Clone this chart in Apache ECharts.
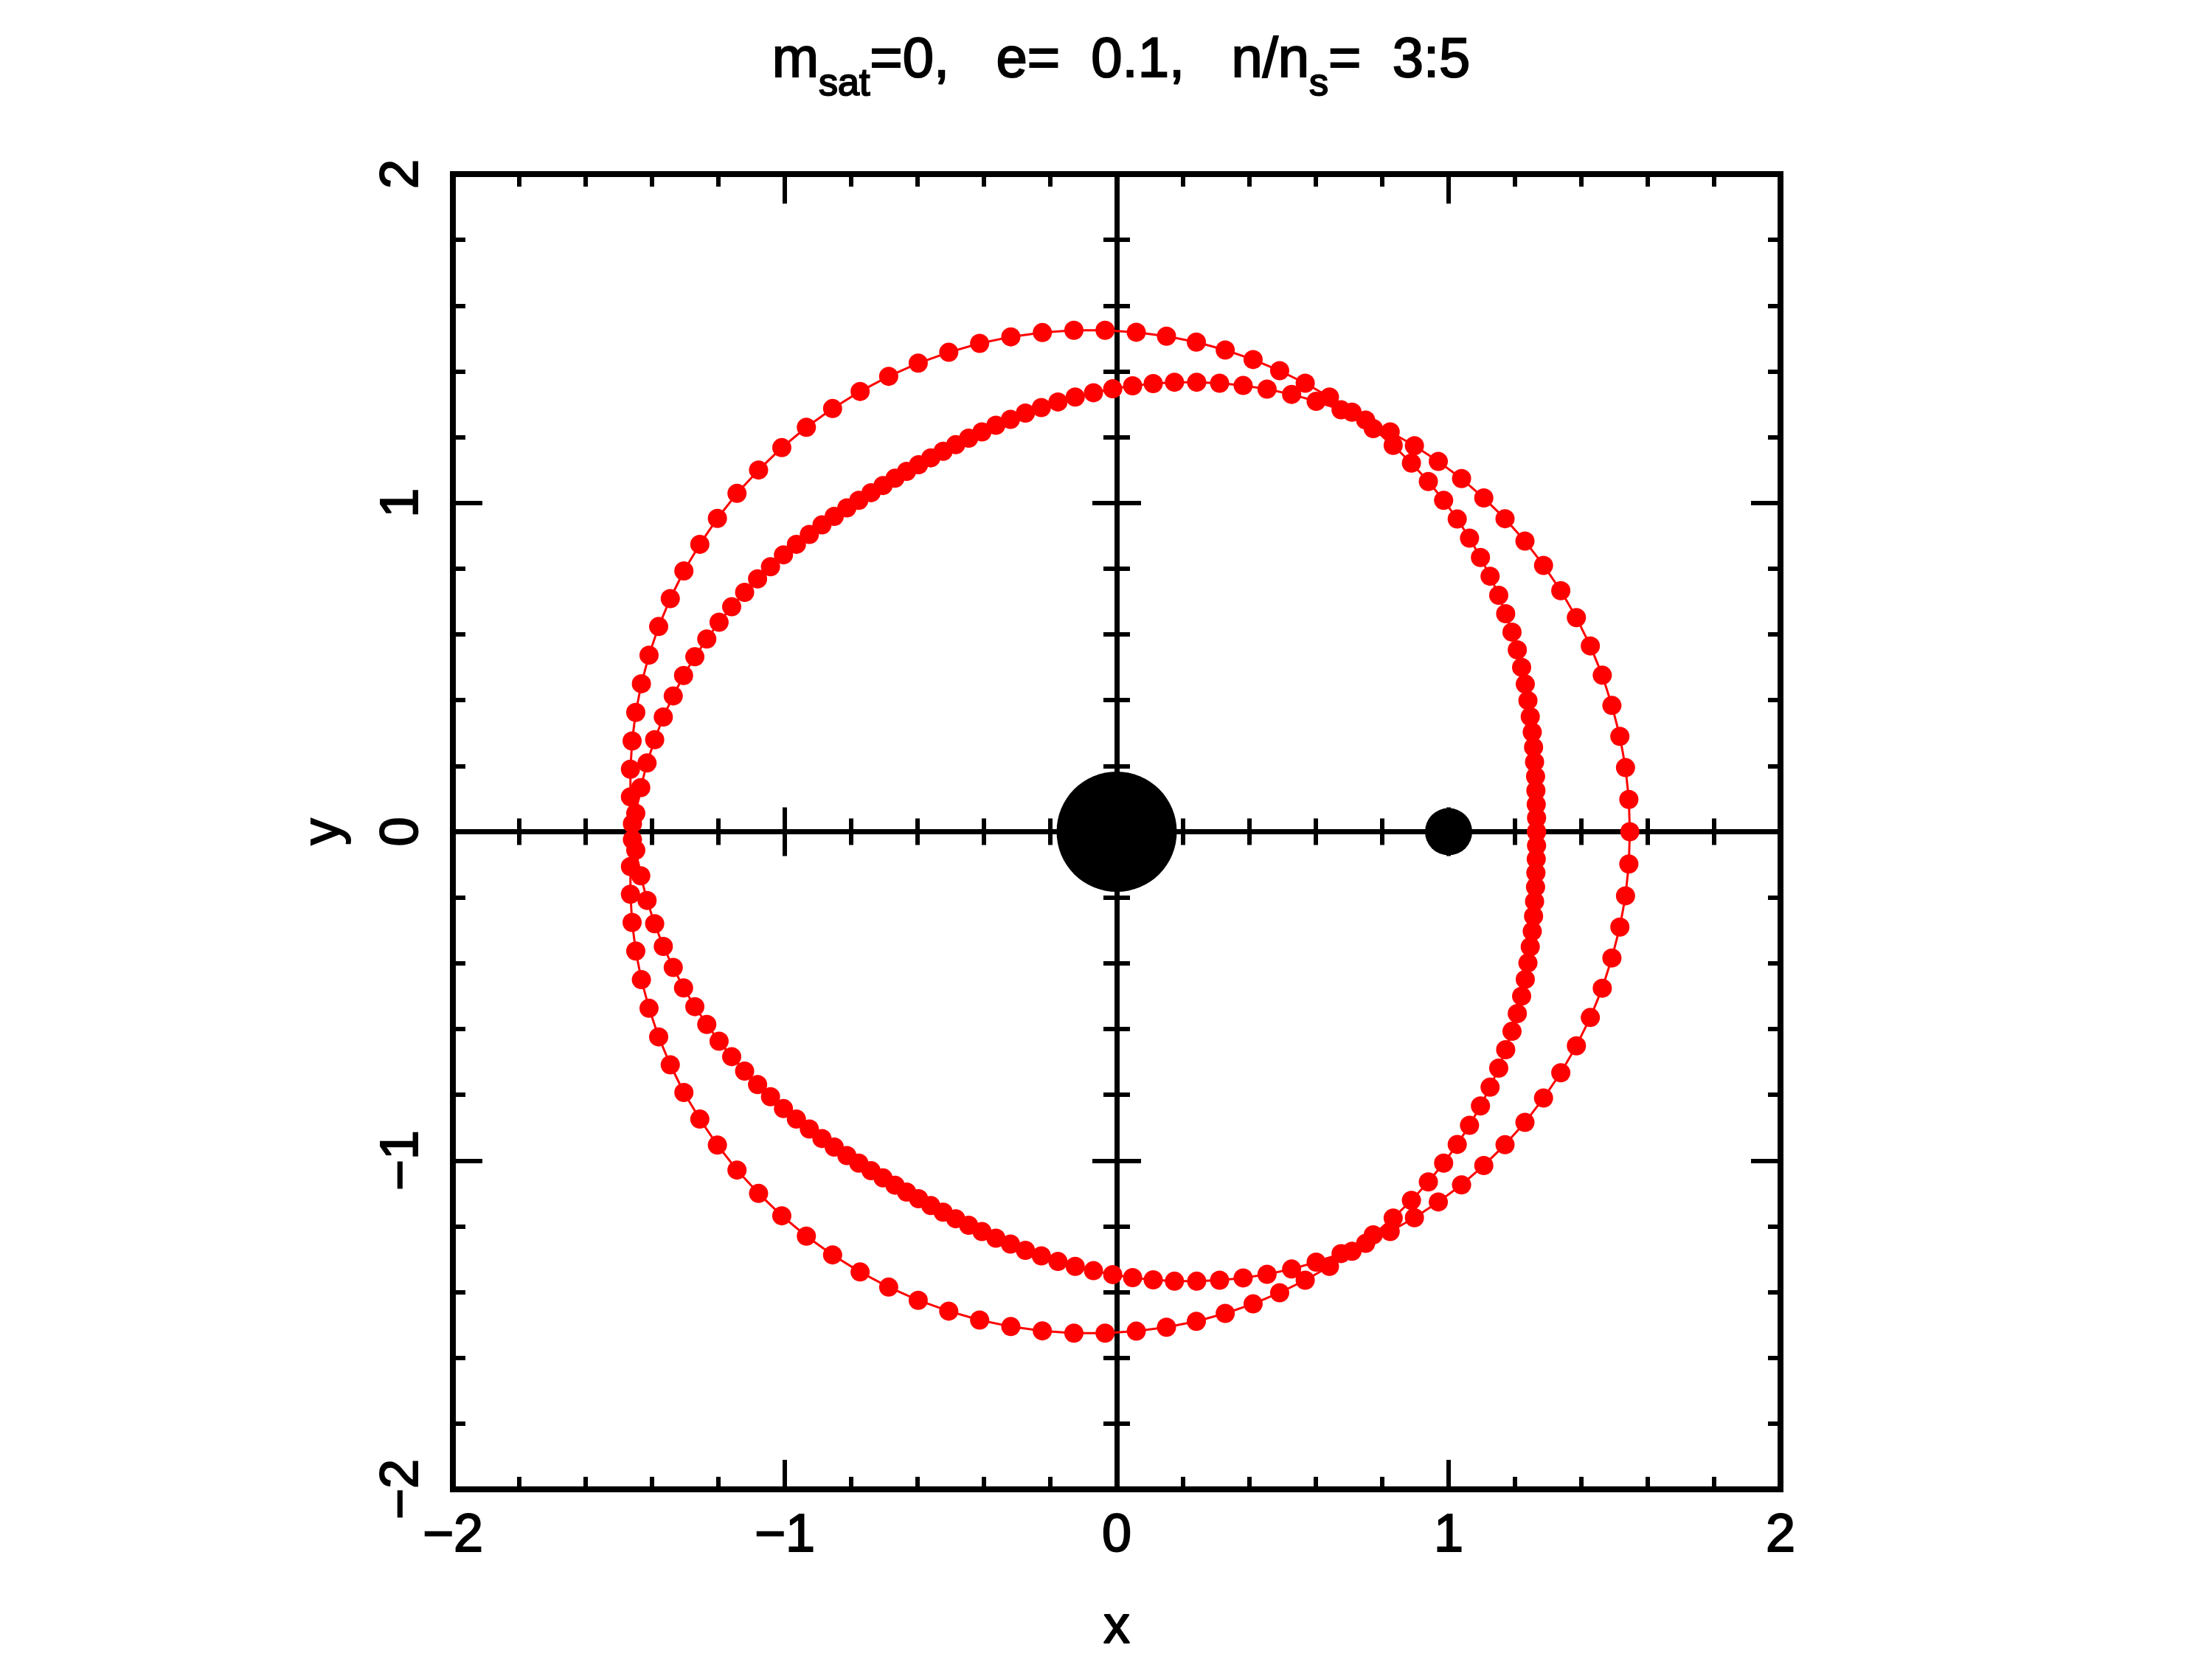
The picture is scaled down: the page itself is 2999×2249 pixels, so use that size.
<!DOCTYPE html>
<html><head><meta charset="utf-8">
<script src="https://cdn.jsdelivr.net/npm/echarts@6/dist/echarts.min.js"></script>
<style>html,body{margin:0;padding:0;background:#fff}#c{width:2999px;height:2249px}</style>
</head><body><div id="c"></div>
<script>
// Orbit points (rotating frame), read/
const orbitX = [
1.265,1.265,1.264,1.263,1.262,1.259,1.256,1.252,1.246,1.239,1.231,1.220,1.207,1.191,1.172,1.151,1.125,1.096,1.063,1.026,0.985,0.939,0.888,0.833,0.773,0.709,0.641,0.568,0.491,0.411,0.327,0.240,0.150,0.059,-0.035,-0.129,-0.224,-0.319,-0.413,-0.506,-0.598,-0.687,-0.773,
-0.856,-0.935,-1.009,-1.079,-1.144,-1.203,-1.256,-1.304,-1.345,-1.380,-1.409,-1.432,-1.449,-1.460,-1.465,-1.465,-1.459,-1.449,-1.434,-1.415,-1.392,-1.366,-1.336,-1.305,-1.271,-1.235,-1.198,-1.160,-1.121,-1.082,-1.043,-1.004,-0.965,-0.926,-0.888,-0.851,-0.813,-0.777,-0.740,-0.704,-0.668,-0.633,
-0.597,-0.560,-0.523,-0.485,-0.446,-0.406,-0.364,-0.320,-0.275,-0.227,-0.177,-0.125,-0.070,-0.012,0.048,0.110,0.174,0.241,0.310,0.381,0.453,0.527,0.601,0.676,0.750,0.824,0.897,0.969,1.039,1.106,1.170,1.230,1.286,1.338,1.385,1.427,1.463,1.492,1.516,1.533,1.543,1.546,
1.543,1.533,1.516,1.492,1.463,1.427,1.385,1.338,1.286,1.230,1.170,1.106,1.039,0.969,0.897,0.824,0.750,0.676,0.601,0.527,0.453,0.381,0.310,0.241,0.174,0.110,0.048,-0.012,-0.070,-0.125,-0.177,-0.227,-0.275,-0.320,-0.364,-0.406,-0.446,-0.485,-0.523,-0.560,-0.597,-0.633,
-0.668,-0.704,-0.740,-0.777,-0.813,-0.851,-0.888,-0.926,-0.965,-1.004,-1.043,-1.082,-1.121,-1.160,-1.198,-1.235,-1.271,-1.305,-1.336,-1.366,-1.392,-1.415,-1.434,-1.449,-1.459,-1.465,-1.465,-1.460,-1.449,-1.432,-1.409,-1.380,-1.345,-1.304,-1.256,-1.203,-1.144,-1.079,-1.009,-0.935,-0.856,-0.773,
-0.687,-0.598,-0.506,-0.413,-0.319,-0.224,-0.129,-0.035,0.059,0.150,0.240,0.327,0.411,0.491,0.568,0.641,0.709,0.773,0.833,0.888,0.939,0.985,1.026,1.063,1.096,1.125,1.151,1.172,1.191,1.207,1.220,1.231,1.239,1.246,1.252,1.256,1.259,1.262,1.263,1.264,1.265,1.265
];
const orbitY = [
0,-0.042,-0.083,-0.125,-0.168,-0.212,-0.257,-0.303,-0.350,-0.399,-0.449,-0.500,-0.553,-0.607,-0.663,-0.719,-0.777,-0.834,-0.893,-0.951,-1.008,-1.065,-1.121,-1.175,-1.226,-1.276,-1.322,-1.364,-1.402,-1.436,-1.465,-1.489,-1.507,-1.519,-1.525,-1.525,-1.518,-1.505,-1.485,-1.458,-1.425,-1.385,-1.339,
-1.287,-1.230,-1.168,-1.100,-1.029,-0.953,-0.874,-0.793,-0.709,-0.624,-0.537,-0.450,-0.363,-0.276,-0.190,-0.106,-0.024,0.056,0.134,0.209,0.280,0.349,0.413,0.475,0.532,0.586,0.637,0.684,0.728,0.769,0.806,0.842,0.874,0.904,0.933,0.959,0.985,1.008,1.031,1.053,1.075,1.096,
1.116,1.137,1.157,1.177,1.197,1.216,1.236,1.254,1.273,1.290,1.307,1.322,1.335,1.347,1.356,1.363,1.367,1.367,1.364,1.357,1.346,1.330,1.309,1.283,1.252,1.216,1.174,1.126,1.074,1.015,0.952,0.884,0.810,0.733,0.651,0.565,0.476,0.384,0.290,0.195,0.098,0,
-0.098,-0.195,-0.290,-0.384,-0.476,-0.565,-0.651,-0.733,-0.810,-0.884,-0.952,-1.015,-1.074,-1.126,-1.174,-1.216,-1.252,-1.283,-1.309,-1.330,-1.346,-1.357,-1.364,-1.367,-1.367,-1.363,-1.356,-1.347,-1.335,-1.322,-1.307,-1.290,-1.273,-1.254,-1.236,-1.216,-1.197,-1.177,-1.157,-1.137,-1.116,-1.096,
-1.075,-1.053,-1.031,-1.008,-0.985,-0.959,-0.933,-0.904,-0.874,-0.842,-0.806,-0.769,-0.728,-0.684,-0.637,-0.586,-0.532,-0.475,-0.413,-0.349,-0.280,-0.209,-0.134,-0.056,0.024,0.106,0.190,0.276,0.363,0.450,0.537,0.624,0.709,0.793,0.874,0.953,1.029,1.100,1.168,1.230,1.287,1.339,
1.385,1.425,1.458,1.485,1.505,1.518,1.525,1.525,1.519,1.507,1.489,1.465,1.436,1.402,1.364,1.322,1.276,1.226,1.175,1.121,1.065,1.008,0.951,0.893,0.834,0.777,0.719,0.663,0.607,0.553,0.500,0.449,0.399,0.350,0.303,0.257,0.212,0.168,0.125,0.083,0.042,0
];
// Central body and satellite
const planetX = [0], planetY = [0];
const satX = [1], satY = [0];
// Axis ranges / ticks
const axisMin = -2, axisMax = 2, majorStep = 1, minorSplits = 5;
const xName = 'x', yName = 'y';
const titleText = '{a|m}{b|sat}{a|=0,   e=  0.1,   n/n}{b|s}{a|=  3:5}';

const FONT = 'Liberation Sans, Arial, Helvetica, sans-serif';
const fmt = v => (v < 0 ? '\u2212' : '') + Math.abs(v);
const heavy = { textBorderColor: '#000', textBorderWidth: 2 };

function frameAxis(pos, withLabels, extra) {
  return Object.assign({
    type: 'value', min: axisMin, max: axisMax, interval: majorStep, position: pos,
    gridIndex: 0,
    axisLine: { show: true, onZero: false, lineStyle: { color: '#000', width: 8, cap: 'square' } },
    axisTick: { show: true, inside: true, length: 40, lineStyle: { color: '#000', width: 6 } },
    minorTick: { show: true, splitNumber: minorSplits, length: 17, lineStyle: { color: '#000', width: 6 } },
    splitLine: { show: false }, minorSplitLine: { show: false },
    axisLabel: { show: withLabels, formatter: fmt, fontSize: 70, color: '#000', fontFamily: FONT },
    silent: true
  }, extra || {});
}
function centerAxis(pos, inside) {
  return {
    type: 'value', min: axisMin, max: axisMax, interval: majorStep, position: pos,
    gridIndex: 0,
    axisLine: { show: true, onZero: true, onZeroAxisIndex: 0, lineStyle: { color: '#000', width: 7 } },
    axisTick: { show: true, inside: inside, length: 33, lineStyle: { color: '#000', width: 6 } },
    minorTick: { show: true, splitNumber: minorSplits, length: 18, lineStyle: { color: '#000', width: 6 } },
    splitLine: { show: false }, minorSplitLine: { show: false },
    axisLabel: { show: false }, silent: true
  };
}

const chart = echarts.init(document.getElementById('c'), null, { renderer: 'canvas' });
chart.setOption({
  animation: false,
  backgroundColor: '#fff',
  title: {
    text: titleText, left: 1520, top: 45, padding: 0, textAlign: 'center',
    textStyle: {
      fontWeight: 'normal',
      rich: {
        a: Object.assign({ fontSize: 76, fontWeight: 'normal', fontFamily: FONT, color: '#000', lineHeight: 90, verticalAlign: 'top' }, heavy),
        b: Object.assign({ fontSize: 52, fontWeight: 'normal', fontFamily: FONT, color: '#000', lineHeight: 52, verticalAlign: 'top', padding: [44, 0, 0, 0] }, heavy)
      }
    }
  },
  grid: { left: 614, top: 236, width: 1800, height: 1800, containLabel: false },
  xAxis: [
    frameAxis('bottom', true, {
      axisLabel: Object.assign({ show: true, formatter: fmt, fontSize: 72, color: '#000', fontFamily: FONT, margin: 28 }, heavy),
      name: xName, nameLocation: 'middle', nameGap: 152,
      nameTextStyle: Object.assign({ fontSize: 72, color: '#000', fontFamily: FONT }, heavy)
    }),
    frameAxis('top', false),
    centerAxis('bottom', true),
    centerAxis('bottom', false)
  ],
  yAxis: [
    frameAxis('left', true, {
      axisLabel: Object.assign({ show: true, formatter: fmt, fontSize: 72, color: '#000', fontFamily: FONT, rotate: 90, margin: 32 }, heavy),
      name: yName, nameLocation: 'middle', nameGap: 138, nameRotate: 90,
      nameTextStyle: Object.assign({ fontSize: 72, color: '#000', fontFamily: FONT }, heavy)
    }),
    frameAxis('right', false),
    centerAxis('left', true),
    centerAxis('left', false)
  ],
  series: [
    {
      type: 'line', xAxisIndex: 0, yAxisIndex: 0,
      data: orbitX.map((x, i) => [x, orbitY[i]]),
      symbol: 'circle', symbolSize: 26, showSymbol: true, showAllSymbol: true,
      lineStyle: { color: '#ff0000', width: 3 },
      itemStyle: { color: '#ff0000', opacity: 1 },
      silent: true, z: 3
    },
    {
      type: 'scatter', xAxisIndex: 0, yAxisIndex: 0,
      data: planetX.map((x, i) => [x, planetY[i]]),
      symbol: 'circle', symbolSize: 163, itemStyle: { color: '#000', opacity: 1 }, silent: true, z: 4
    },
    {
      type: 'scatter', xAxisIndex: 0, yAxisIndex: 0,
      data: satX.map((x, i) => [x, satY[i]]),
      symbol: 'circle', symbolSize: 64, itemStyle: { color: '#000', opacity: 1 }, silent: true, z: 4
    }
  ]
});
</script></body></html>
